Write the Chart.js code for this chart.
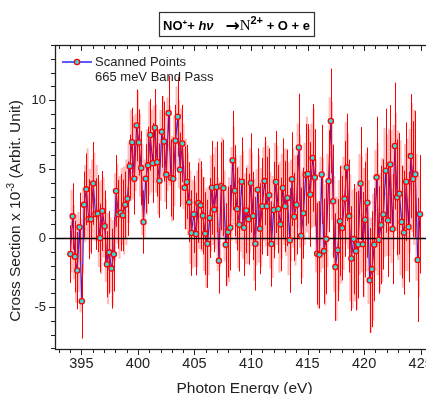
<!DOCTYPE html>
<html lang="en">
<head>
<meta charset="utf-8">
<title>NO+ + hv -> N2+ + O + e</title>
<script src="https://cdn.jsdelivr.net/npm/chart.js@4.4.1/dist/chart.umd.min.js"></script>
<style>
  body { margin: 0; background: #fff; overflow: hidden; }
  .wrap { position: relative; width: 450px; height: 394px; }
</style>
</head>
<body>
<div class="wrap"><canvas id="chart" width="450" height="394"></canvas></div>
<script>
// scan grid (eV)
const scanStart = 394.03;
const scanStep = 0.202;

// marked points, cross section x 10^-3
const scanValues = [
  -1.16, 1.57, -1.35, -2.36, 0.78, -4.59, 2.42, 3.53, 1.36, 1.36,
  3.96, 1.74, 1.77, 0.0, 1.96, 0.85, -1.9, -1.04, -2.22, -1.18,
  3.41, 1.72, 1.84, 1.64, 2.42, 2.85, 5.2, 6.95, 4.3, 8.17,
  6.93, 5.07, 1.16, 4.3, 5.27, 7.47, 5.43, 8.0, 5.5, 4.16,
  7.7, 7.0, 4.6, 9.06, 4.35, 4.3, 7.06, 8.8, 4.95, 6.86,
  3.65, 4.06, 2.6, 0.36, 1.72, 0.29, 2.54, 2.37, 1.62, 0.32,
  -0.42, 1.45, 3.65, 2.06, 3.7, -1.64, 3.75, 3.62, -0.48, 0.43,
  0.75, 5.63, 3.43, 2.1, 0.97, 4.09, 0.75, 2.0, 1.36, 3.99,
  1.6, -0.41, 3.5, 0.68, 2.3, 4.13, 2.3, 3.1, -0.43, 2.03,
  4.06, 2.1, 0.99, 3.63, 2.3, 2.91, -0.17, 4.27, 1.54, 2.41,
  6.56, 0.16, 1.8, 4.58, 4.65, 3.16, 5.81, 4.39, -1.14, -1.22,
  4.61, -0.95, -0.08, 4.12, 8.49, 2.67, -2.11, -0.88, 1.22, 0.72,
  2.84, 5.12, 1.59, -1.49, -0.08, -0.95, -0.47, 3.95, -0.46, 1.33,
  2.56, -3.07, -2.27, -0.48, 4.4, -0.14, 0.94, 1.71, 4.88, 1.28,
  5.34, 0.65, 6.67, 2.95, 3.21, 1.16, 0.39, 4.08, 0.8, 5.94,
  4.28, 4.62, -1.59, 1.72
];
const scanErrors = [
  2.1, 2.4, 2.6, 2.8, 2.5, 2.7, 2.4, 2.6, 2.9, 2.5,
  3.0, 2.6, 2.8, 2.5, 2.9, 2.6, 2.4, 3.0, 2.9, 2.7,
  2.6, 2.5, 2.8, 2.6, 2.4, 2.7, 2.3, 2.5, 2.6, 2.6,
  2.4, 2.7, 2.3, 2.5, 2.8, 2.6, 2.9, 2.8, 2.5, 2.7,
  2.6, 2.9, 2.5, 2.7, 2.8, 3.0, 2.6, 2.9, 2.7, 2.8,
  3.0, 2.7, 2.9, 3.1, 2.8, 3.0, 2.9, 3.2, 2.8, 3.0,
  3.2, 2.9, 3.4, 3.1, 3.3, 2.4, 3.2, 3.5, 3.0, 3.3,
  3.1, 3.6, 3.3, 3.0, 3.4, 3.2, 3.5, 3.1, 3.3, 3.6,
  3.2, 3.4, 3.0, 3.3, 3.5, 3.2, 3.6, 3.4, 3.1, 3.5,
  3.7, 3.2, 3.4, 3.6, 3.3, 3.5, 3.8, 3.4, 3.2, 3.6,
  3.9, 3.5, 3.3, 3.7, 3.6, 3.8, 3.9, 3.5, 3.7, 3.9,
  3.6, 3.8, 4.0, 3.7, 3.8, 4.1, 3.9, 3.7, 4.0, 3.8,
  4.2, 3.9, 4.1, 3.8, 4.0, 4.3, 3.9, 4.1, 3.8, 4.2,
  4.0, 3.8, 4.2, 4.1, 4.4, 3.9, 4.3, 4.0, 4.5, 4.1,
  4.3, 4.0, 4.6, 4.2, 4.4, 4.1, 4.5, 4.3, 4.0, 4.5,
  4.2, 4.6, 4.5, 4.3
];

// unmarked points lying between the marked ones (light bars)
const passValues = [
  0.5, -0.3, -1.5, -1.0, -2.0, 0.5, 2.5, 3.2, 2.0, 2.8,
  3.0, 2.5, 1.0, 0.8, 1.5, -0.2, -1.5, -1.2, -1.8, 1.5,
  2.5, 1.5, 2.3, 2.0, 2.6, 4.0, 6.0, 5.8, 6.2, 7.5,
  6.0, 3.5, 2.8, 4.8, 6.5, 6.3, 6.8, 6.5, 4.8, 6.0,
  7.3, 5.8, 6.8, 6.7, 4.3, 5.6, 8.0, 6.8, 5.9, 5.2,
  3.9, 3.2, 1.5, 1.0, 1.0, 1.4, 2.5, 2.0, 1.0, 0.0,
  0.5, 2.5, 2.8, 2.9, 1.0, 1.0, 3.7, 1.6, 0.0, 0.6,
  3.2, 4.5, 2.8, 1.5, 2.5, 2.4, 1.4, 1.7, 2.7, 2.8,
  0.6, 1.5, 2.1, 1.5, 3.2, 3.2, 2.7, 1.3, 0.8, 3.0,
  3.1, 1.5, 2.3, 3.0, 2.6, 1.4, 2.0, 2.9, 2.0, 4.5,
  3.4, 1.0, 3.2, 4.6, 3.9, 4.5, 5.1, 1.6, -1.2, 1.7,
  1.8, -0.5, 2.0, 6.3, 5.6, 0.3, -1.5, 0.2, 1.0, 1.8,
  4.0, 3.4, 0.0, -0.8, -0.5, -0.7, 1.7, 1.7, 0.4, 1.9,
  -0.3, -2.7, -1.4, 2.0, 2.1, 0.4, 1.3, 3.3, 3.1, 3.3,
  3.0, 3.7, 4.8, 3.1, 2.2, 0.8, 2.2, 2.4, 3.4, 5.1,
  4.4, 1.5, 0.1
];
const passErrors = [
  3.0, 2.7, 3.2, 2.9, 3.4, 3.1, 2.8, 3.3, 3.0, 2.9,
  3.2, 2.8, 3.1, 3.4, 2.9, 3.0, 3.3, 2.7, 3.1, 3.2,
  2.9, 3.0, 2.8, 3.2, 3.1, 2.9, 3.3, 3.0, 2.8, 3.2,
  3.0, 3.3, 2.9, 3.1, 3.4, 3.0, 2.8, 3.2, 3.1, 3.3,
  3.0, 3.2, 3.4, 2.9, 3.1, 3.3, 3.0, 3.2, 3.5, 3.1,
  3.3, 3.0, 3.4, 3.2, 3.1, 3.5, 3.3, 3.0, 3.4, 3.6,
  3.2, 3.5, 3.3, 3.7, 3.4, 3.1, 3.6, 3.3, 3.5, 3.8,
  3.4, 3.6, 3.2, 3.7, 3.5, 3.9, 3.3, 3.6, 3.8, 3.4,
  3.7, 3.5, 3.9, 3.6, 3.4, 3.8, 4.0, 3.5, 3.7, 3.9,
  3.6, 4.0, 3.8, 3.5, 3.9, 4.1, 3.7, 3.6, 4.0, 3.8,
  4.1, 3.9, 3.7, 4.2, 4.0, 3.8, 4.3, 4.1, 3.9, 4.2,
  4.0, 4.4, 4.1, 3.9, 4.3, 4.2, 4.5, 4.0, 4.3, 4.1,
  4.4, 4.2, 4.6, 4.3, 4.1, 4.5, 4.4, 4.2, 4.7, 4.3,
  4.5, 4.2, 4.6, 4.4, 4.8, 4.3, 4.5, 4.7, 4.4, 4.6,
  4.8, 4.5, 4.3, 4.7, 4.9, 4.4, 4.6, 4.8, 4.5, 4.7,
  4.9, 4.6, 4.4
];

const xTickLabels = [395, 400, 405, 410, 415, 420, 425];
const yTickLabels = [-5, 0, 5, 10];

const FONT = '"Liberation Sans", Arial, sans-serif';
const INK = '#222';

const scanPoints = scanValues.map((v, i) => ({ x: scanStart + scanStep * i, y: v }));
const passPoints = passValues.map((v, i) => ({ x: scanStart + scanStep * (i + 0.5), y: v }));

// only label the round ticks (float-safe)
const pickLabel = list => v => {
  const r = Math.round(v);
  return Math.abs(v - r) < 1e-6 && list.includes(r) ? String(r) : '';
};

// error bars, drawn right after the main line so markers stay on top
const errorBars = {
  id: 'errorBars',
  afterDatasetDraw(chart, args) {
    if (args.index !== 1) return;
    const { ctx, chartArea: a, scales: { x, y } } = chart;
    ctx.save();
    ctx.beginPath();
    ctx.rect(a.left, a.top, a.right - a.left, a.bottom - a.top);
    ctx.clip();
    ctx.lineCap = 'butt';
    ctx.strokeStyle = 'rgba(255,70,70,0.36)';
    ctx.lineWidth = 2.2;
    passPoints.forEach((p, i) => {
      const px = x.getPixelForValue(p.x);
      ctx.beginPath();
      ctx.moveTo(px, y.getPixelForValue(p.y - passErrors[i]));
      ctx.lineTo(px, y.getPixelForValue(p.y + passErrors[i]));
      ctx.stroke();
    });
    ctx.strokeStyle = '#ff0000';
    ctx.lineWidth = 1;
    scanPoints.forEach((p, i) => {
      const px = Math.round(x.getPixelForValue(p.x)) + 0.5;
      ctx.beginPath();
      ctx.moveTo(px, y.getPixelForValue(p.y - scanErrors[i]));
      ctx.lineTo(px, y.getPixelForValue(p.y + scanErrors[i]));
      ctx.stroke();
    });
    // zero line
    const y0 = Math.round(y.getPixelForValue(0)) + 0.5;
    ctx.strokeStyle = '#000';
    ctx.lineWidth = 1.6;
    ctx.beginPath();
    ctx.moveTo(a.left, y0);
    ctx.lineTo(a.right, y0);
    ctx.stroke();
    ctx.restore();
  }
};

function drawRuns(ctx, runs, cx, baseY) {
  let w = 0;
  runs.forEach(r => { ctx.font = r.font; r.w = ctx.measureText(r.text).width; w += r.w; });
  let x = cx - w / 2;
  runs.forEach(r => {
    ctx.font = r.font;
    ctx.fillText(r.text, x, baseY + (r.dy || 0));
    x += r.w;
  });
  return w;
}

// frame, minor/major ticks, title, axis titles, legend
const decorations = {
  id: 'decorations',
  afterDraw(chart) {
    const { ctx, chartArea: a, scales: { x, y } } = chart;
    ctx.save();
    ctx.strokeStyle = INK;
    ctx.lineWidth = 1.3;
    ctx.strokeRect(a.left + 0.5, a.top + 0.5, a.right - a.left, a.bottom - a.top);

    ctx.lineWidth = 1;
    ctx.beginPath();
    for (let v = 393; v <= 426; v++) {
      const px = Math.round(x.getPixelForValue(v)) + 0.5;
      const major = v % 5 === 0;
      ctx.moveTo(px, a.bottom);
      ctx.lineTo(px, a.bottom + (major ? 6 : 4));
      ctx.moveTo(px, a.top);
      ctx.lineTo(px, a.top + (major ? 6 : 4));
    }
    for (let v = -8; v <= 14; v++) {
      const py = Math.round(y.getPixelForValue(v)) + 0.5;
      const major = v % 5 === 0;
      ctx.moveTo(a.left, py);
      ctx.lineTo(a.left - (major ? 6 : 4), py);
    }
    ctx.stroke();

    // title box
    ctx.fillStyle = '#000';
    ctx.textBaseline = 'alphabetic';
    ctx.textAlign = 'left';
    const bold = s => 'bold ' + s + 'px ' + FONT;
    const tw = drawRuns(ctx, [
      { text: 'NO', font: bold(13) },
      { text: '+', font: bold(8), dy: -5 },
      { text: '+ ', font: bold(13) },
      { text: 'h\u03bd', font: 'italic ' + bold(13) },
      { text: '  \u2192', font: 'bold 17px "DejaVu Sans", sans-serif', dy: 1 },
      { text: 'N', font: '15px "Liberation Serif", "Times New Roman", serif' },
      { text: '2+', font: bold(11), dy: -6 },
      { text: ' + O + e', font: bold(13) }
    ], 236.5, 30);
    ctx.strokeStyle = '#333';
    ctx.lineWidth = 1.2;
    ctx.strokeRect(Math.round(236.5 - tw / 2 - 4) + 0.5, 12.5, Math.round(tw + 8), 24);

    // axis titles
    ctx.fillStyle = INK;
    drawRuns(ctx, [{ text: 'Photon Energy (eV)', font: '15.5px ' + FONT }], 244.5, 393);
    ctx.save();
    ctx.translate(20, 211);
    ctx.rotate(-Math.PI / 2);
    drawRuns(ctx, [
      { text: 'Cross Section x 10', font: '15.5px ' + FONT },
      { text: '-3', font: '10px ' + FONT, dy: -6 },
      { text: ' (Arbit. Unit)', font: '15.5px ' + FONT }
    ], 0, 0);
    ctx.restore();

    // legend
    ctx.strokeStyle = '#0000ff';
    ctx.lineWidth = 1.3;
    ctx.beginPath();
    ctx.moveTo(62, 62);
    ctx.lineTo(92, 62);
    ctx.stroke();
    ctx.beginPath();
    ctx.arc(77, 62, 2.6, 0, Math.PI * 2);
    ctx.fillStyle = '#2fe0e0';
    ctx.fill();
    ctx.strokeStyle = '#ff0000';
    ctx.stroke();
    ctx.fillStyle = INK;
    ctx.font = '13px ' + FONT;
    ctx.textBaseline = 'middle';
    ctx.fillText('Scanned Points', 95, 62);
    ctx.fillText('665 meV Band Pass', 95, 77.5);
    ctx.restore();
  }
};

new Chart(document.getElementById('chart'), {
  type: 'line',
  data: {
    datasets: [
      {
        label: 'Scanned Points',
        data: scanPoints,
        showLine: false,
        pointRadius: 2.6,
        pointBackgroundColor: '#2fe0e0',
        pointBorderColor: '#ff0000',
        pointBorderWidth: 1.3,
        order: 0
      },
      {
        label: 'scan line',
        data: scanPoints,
        borderColor: '#0000ff',
        borderWidth: 1.1,
        pointRadius: 0,
        order: 1
      },
      {
        label: '665 meV Band Pass',
        data: passPoints,
        borderColor: 'rgba(90,110,255,0.35)',
        borderWidth: 1.4,
        pointRadius: 0,
        order: 2
      }
    ]
  },
  options: {
    responsive: false,
    animation: false,
    layout: { padding: { top: 45, right: 18, left: 0, bottom: 0 } },
    plugins: { legend: { display: false }, tooltip: { enabled: false } },
    scales: {
      x: {
        type: 'linear',
        min: 392.67,
        max: 426.0,
        afterFit: s => { s.height = 45; },
        grid: { display: false, drawTicks: false },
        border: { display: false },
        ticks: {
          stepSize: 5,
          includeBounds: false,
          autoSkip: false,
          maxRotation: 0,
          padding: 6,
          color: INK,
          font: { family: FONT, size: 14.5 },
          callback: pickLabel(xTickLabels)
        }
      },
      y: {
        min: -8.05,
        max: 14.0,
        afterFit: s => { s.width = 55; },
        grid: { display: false, drawTicks: false },
        border: { display: false },
        ticks: {
          stepSize: 5,
          includeBounds: false,
          autoSkip: false,
          padding: 9,
          color: INK,
          font: { family: FONT, size: 13 },
          callback: pickLabel(yTickLabels)
        }
      }
    }
  },
  plugins: [errorBars, decorations]
});
</script>
</body>
</html>
